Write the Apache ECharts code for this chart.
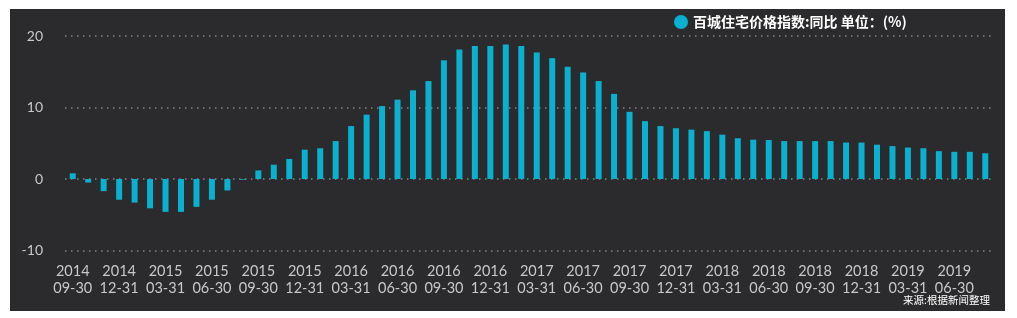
<!DOCTYPE html>
<html>
<head>
<meta charset="utf-8">
<script src="https://cdn.jsdelivr.net/npm/echarts@6/dist/echarts.min.js"></script>
<style>
html,body{margin:0;padding:0;background:#ffffff;}
#c{position:absolute;left:10px;top:9px;width:995px;height:302px;}
</style>
</head>
<body>
<div id="c"></div>
<script>
const categories = [
'2014-09-30','2014-10-31','2014-11-30','2014-12-31',
'2015-01-31','2015-02-28','2015-03-31','2015-04-30','2015-05-31','2015-06-30','2015-07-31','2015-08-31','2015-09-30','2015-10-31','2015-11-30','2015-12-31',
'2016-01-31','2016-02-29','2016-03-31','2016-04-30','2016-05-31','2016-06-30','2016-07-31','2016-08-31','2016-09-30','2016-10-31','2016-11-30','2016-12-31',
'2017-01-31','2017-02-28','2017-03-31','2017-04-30','2017-05-31','2017-06-30','2017-07-31','2017-08-31','2017-09-30','2017-10-31','2017-11-30','2017-12-31',
'2018-01-31','2018-02-28','2018-03-31','2018-04-30','2018-05-31','2018-06-30','2018-07-31','2018-08-31','2018-09-30','2018-10-31','2018-11-30','2018-12-31',
'2019-01-31','2019-02-28','2019-03-31','2019-04-30','2019-05-31','2019-06-30','2019-07-31','2019-08-31'
];
const yoyValues = [
0.8,-0.5,-1.7,-2.9,
-3.3,-4.1,-4.6,-4.6,-3.9,-2.9,-1.6,-0.1,1.2,2.0,2.8,4.1,
4.3,5.3,7.4,9.0,10.2,11.1,12.4,13.7,16.6,18.1,18.6,18.6,
18.8,18.6,17.7,16.9,15.7,14.9,13.7,11.9,9.4,8.1,7.4,7.1,
6.9,6.7,6.2,5.7,5.5,5.45,5.3,5.3,5.3,5.3,5.1,5.1,
4.8,4.6,4.4,4.3,3.9,3.8,3.8,3.6
];
const yTicks = {min:-10, max:20, interval:10};
const seriesName = '百城住宅价格指数:同比 单位：(%)';
const sourceText = '来源:根据新闻整理';

const chart = echarts.init(document.getElementById('c'));
chart.setOption({
  backgroundColor:'#2b2b2d',
  animation:false,
  title:{
    text:sourceText, right:10, bottom:1,
    textStyle:{color:'#ffffff', fontSize:10.5, fontWeight:'normal', fontFamily:'Noto Sans CJK SC'}
  },
  legend:{
    data:[{name:seriesName, icon:'circle'}],
    left:659, top:1, itemWidth:14, itemHeight:14, itemGap:6,
    textStyle:{color:'#ffffff', fontSize:14, fontWeight:'bold', fontFamily:'Noto Sans CJK SC'}
  },
  grid:{left:55, right:12, top:27, bottom:60.5},
  xAxis:{
    type:'category', data:categories, boundaryGap:true,
    axisLine:{show:false}, axisTick:{show:false},
    axisLabel:{
      interval:2, color:'#c8c8c8', fontSize:14.5, fontFamily:'Lato', lineHeight:17, margin:12,
      formatter:function(v){ return v.slice(0,4)+'\n'+v.slice(5); }
    },
    splitLine:{show:false}
  },
  yAxis:{
    type:'value', min:yTicks.min, max:yTicks.max, interval:yTicks.interval,
    axisLine:{show:false}, axisTick:{show:false},
    axisLabel:{color:'#c8c8c8', fontSize:14, fontFamily:'Lato', margin:22},
    splitLine:{show:true, lineStyle:{color:'#858585', width:1.5, type:[1.5,4.5]}}
  },
  series:[{
    name:seriesName, type:'bar', data:yoyValues, barWidth:6,
    itemStyle:{color:'#0ab0cf'}
  }]
});
</script>
</body>
</html>
